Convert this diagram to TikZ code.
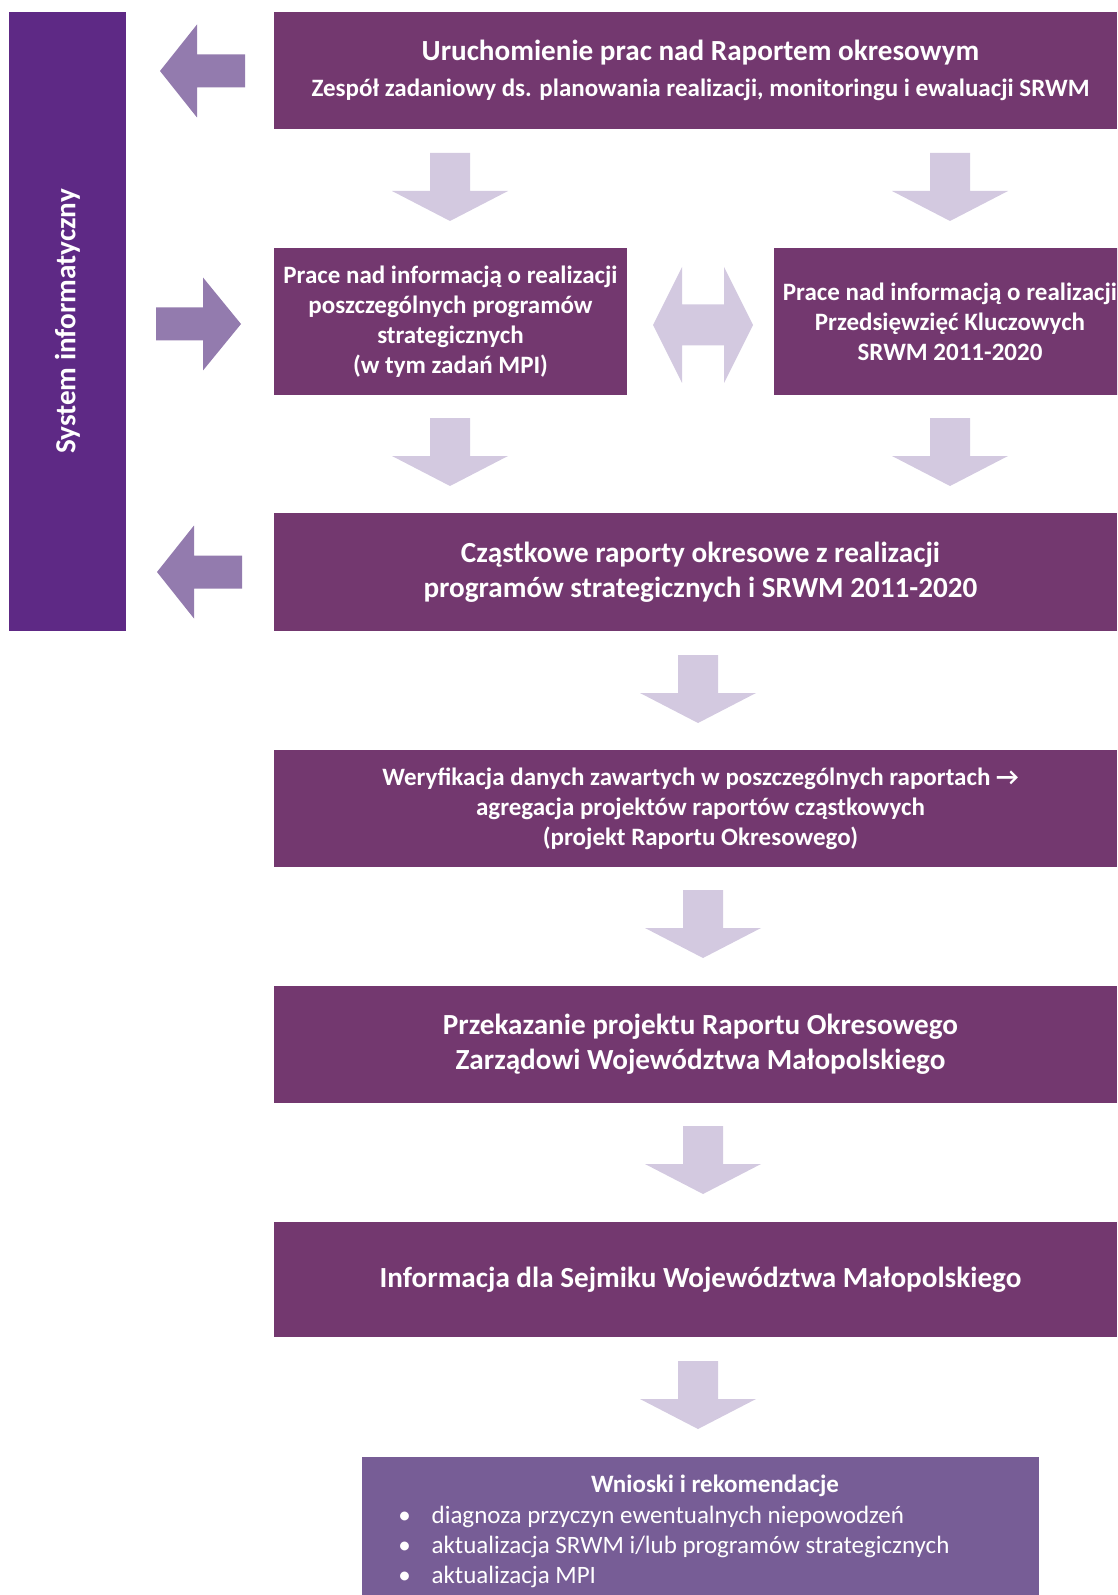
\documentclass[tikz,border=0pt]{standalone}
\usepackage{fontspec}
\setmainfont{Carlito}
\usetikzlibrary{fit}

\definecolor{boxplum}{HTML}{73386F}
\definecolor{barpurple}{HTML}{5E2985}
\definecolor{sidearr}{HTML}{937BAE}
\definecolor{downarr}{HTML}{D3C9E0}
\definecolor{recbox}{HTML}{775D96}

\tikzset{
  box/.style={fill=boxplum, inner sep=0pt},
  boxtxt/.style={inner sep=0pt, text=white, align=center,
    font=\bfseries\fontsize{15}{18}\selectfont},
  bigtxt/.style={boxtxt, font=\bfseries\fontsize{17.5}{21}\selectfont},
  widetxt/.style={xshift=3pt},
  downblock/.pic={\fill[downarr] (-20,0) -- (20,0) -- (20,38) -- (58,38)
    -- (0,68) -- (-58,38) -- (-20,38) -- cycle;},
  rightblock/.pic={\fill[sidearr] (0,-16.5) -- (47,-16.5) -- (47,-46.5)
    -- (85,0) -- (47,46.5) -- (47,16.5) -- (0,16.5) -- cycle;},
  leftblock/.pic={\fill[sidearr] (0,0) -- (37,-46.5) -- (37,-16.5)
    -- (85,-16.5) -- (85,16.5) -- (37,16.5) -- (37,46.5) -- cycle;},
  bothblock/.pic={\fill[downarr] (-50,0) -- (-21,-58) -- (-21,-20.5)
    -- (21,-20.5) -- (21,-58) -- (50,0) -- (21,58) -- (21,20.5)
    -- (-21,20.5) -- (-21,58) -- cycle;}
}

\begin{document}
\begin{tikzpicture}[x=0.6pt,y=-0.6pt]
  \useasboundingbox (0,0) rectangle (1117,1595);
  \clip (0,0) rectangle (1117,1595);

  % system bar
  \node[fill=barpurple, inner sep=0pt, fit={(9,12) (126,631)}] (sys) {};
  \node[rotate=90, text=white, font=\bfseries\fontsize{17.5}{21}\selectfont]
    (systxt) at (sys.center) {System informatyczny};

  % boxes
  \node[box, fit={(274,12) (1117,129)}] (start) {};
  \node[bigtxt, widetxt] (starttxt) at (start) {Uruchomienie prac nad Raportem okresowym\\[1pt]
    {\fontsize{15}{18}\selectfont Zespół zadaniowy ds. planowania realizacji, monitoringu i ewaluacji SRWM}};
  \node[box, fit={(274,248) (627,395)}] (progs) {};
  \node[boxtxt] (progstxt) at (progs) {Prace nad informacją o realizacji\\
    poszczególnych programów\\strategicznych\\(w tym zadań MPI)};
  \node[box, fit={(774,248) (1126,395)}] (keys) {};
  \node[boxtxt] (keystxt) at (keys) {Prace nad informacją o realizacji\\
    Przedsięwzięć Kluczowych\\SRWM 2011-2020};
  \node[box, fit={(274,513) (1117,631)}] (partial) {};
  \node[bigtxt, widetxt] (partialtxt) at (partial) {Cząstkowe raporty okresowe z realizacji\\
    programów strategicznych i SRWM 2011-2020};
  \node[box, fit={(274,750) (1117,867)}] (verify) {};
  \node[boxtxt, widetxt] (verifytxt) at (verify) {Weryfikacja danych zawartych w poszczególnych raportach →\\
    agregacja projektów raportów cząstkowych\\(projekt Raportu Okresowego)};
  \node[box, fit={(274,986) (1117,1103)}] (handover) {};
  \node[bigtxt, widetxt] (handovertxt) at (handover) {Przekazanie projektu Raportu Okresowego\\
    Zarządowi Województwa Małopolskiego};
  \node[box, fit={(274,1222) (1117,1337)}] (sejmik) {};
  \node[bigtxt, widetxt] (sejmiktxt) at (sejmik) {Informacja dla Sejmiku Województwa Małopolskiego};
  \node[fill=recbox, inner sep=0pt, fit={(362,1457) (1039,1603)}] (recs) {};
  \node[text=white, font=\bfseries\fontsize{15}{18}\selectfont] (recstitle) at (715,1486) {Wnioski i rekomendacje};
  \node[anchor=north west, text=white, align=left, inner sep=0pt,
    font=\fontsize{15}{18}\selectfont] (recslist) at (398,1506)
    {\makebox[20pt][l]{•}diagnoza przyczyn ewentualnych niepowodzeń\\
     \makebox[20pt][l]{•}aktualizacja SRWM i/lub programów strategicznych\\
     \makebox[20pt][l]{•}aktualizacja MPI};

  % block arrows
  \pic (toSysA) at (160,71) {leftblock};
  \pic (fromSys) at (156,324) {rightblock};
  \pic (toSysB) at (157,572) {leftblock};
  \pic (both) at (703,325) {bothblock};
  \pic (dA) at (450,153) {downblock};
  \pic (dB) at (950,153) {downblock};
  \pic (dC) at (450,418) {downblock};
  \pic (dD) at (950,418) {downblock};
  \pic (dE) at (698,655) {downblock};
  \pic (dF) at (703,890) {downblock};
  \pic (dG) at (703,1126) {downblock};
  \pic (dH) at (698,1361) {downblock};
\end{tikzpicture}
\end{document}
